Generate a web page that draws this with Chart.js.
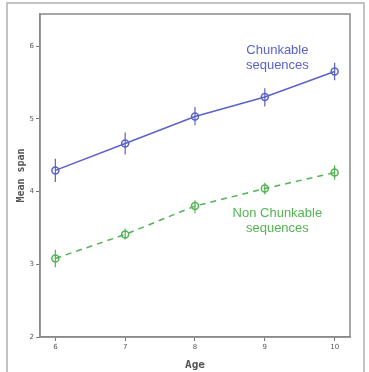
<!DOCTYPE html>
<html>
<head>
<meta charset="utf-8">
<script src="https://cdn.jsdelivr.net/npm/chart.js@4/dist/chart.umd.min.js"></script>
<style>
  html, body { margin: 0; padding: 0; background: #fff; }
  #wrap { width: 369px; height: 372px; position: relative; }
</style>
</head>
<body>
<div id="wrap"><canvas id="span-chart"></canvas></div>
<script>
var ages = [6, 7, 8, 9, 10];
var chunkable = [4.29, 4.66, 5.03, 5.30, 5.65];
var chunkableLow = [4.13, 4.51, 4.91, 5.17, 5.53];
var chunkableHigh = [4.45, 4.81, 5.16, 5.42, 5.77];
var nonChunkable = [3.08, 3.41, 3.80, 4.04, 4.26];
var nonChunkableLow = [2.96, 3.34, 3.70, 3.96, 4.16];
var nonChunkableHigh = [3.20, 3.49, 3.88, 4.12, 4.36];
var xTicks = [6, 7, 8, 9, 10];
var yTicks = [2, 3, 4, 5, 6];

var blue = "#5a62c8";
var green = "#52b452";

function toPoints(ys) {
    return ages.map(function (a, i) { return { x: a, y: ys[i] }; });
}

// error bars, frames and the two series labels
var extras = {
    id: "extras",
    beforeDraw: function (chart) {
        var c = chart.ctx;
        c.save();
        c.strokeStyle = "#b0b0b0";
        c.lineWidth = 1.5;
        c.strokeRect(7, 3, 357, 380);
        c.restore();
    },
    afterDatasetsDraw: function (chart) {
        var c = chart.ctx;
        var xs = chart.scales.x, ys = chart.scales.y;
        var bars = [
            { low: chunkableLow, high: chunkableHigh, color: blue },
            { low: nonChunkableLow, high: nonChunkableHigh, color: green }
        ];
        c.save();
        c.lineWidth = 1.2;
        bars.forEach(function (b) {
            c.strokeStyle = b.color;
            ages.forEach(function (a, i) {
                var px = xs.getPixelForValue(a);
                c.beginPath();
                c.moveTo(px, ys.getPixelForValue(b.low[i]));
                c.lineTo(px, ys.getPixelForValue(b.high[i]));
                c.stroke();
            });
        });

        var area = chart.chartArea;
        c.strokeStyle = "#8a8a8a";
        c.lineWidth = 1.5;
        c.strokeRect(area.left, area.top, area.right - area.left, area.bottom - area.top);

        c.font = "13px 'Liberation Sans', Arial, sans-serif";
        c.textAlign = "center";
        c.textBaseline = "middle";
        var lx = xs.getPixelForValue(9.18);
        c.fillStyle = blue;
        var ly = ys.getPixelForValue(5.83);
        c.fillText("Chunkable", lx, ly - 7.5);
        c.fillText("sequences", lx, ly + 7.5);
        c.fillStyle = green;
        ly = ys.getPixelForValue(3.60);
        c.fillText("Non Chunkable", lx, ly - 7.5);
        c.fillText("sequences", lx, ly + 7.5);
        c.restore();
    }
};

var chart = new Chart(document.getElementById("span-chart"), {
    type: "line",
    data: {
        datasets: [
            {
                label: "Chunkable sequences",
                data: toPoints(chunkable),
                borderColor: blue,
                borderWidth: 1.5,
                pointRadius: 3.5,
                pointBorderWidth: 1.5,
                pointBackgroundColor: "rgba(255,255,255,0)",
                pointBorderColor: blue
            },
            {
                label: "Non Chunkable sequences",
                data: toPoints(nonChunkable),
                borderColor: green,
                borderWidth: 1.5,
                borderDash: [6, 5],
                pointRadius: 3.5,
                pointBorderWidth: 1.5,
                pointBackgroundColor: "rgba(255,255,255,0)",
                pointBorderColor: green
            }
        ]
    },
    options: {
        responsive: true,
        maintainAspectRatio: false,
        animation: false,
        layout: { padding: { left: 0, top: 14, right: 19, bottom: 0 } },
        plugins: {
            legend: { display: false },
            tooltip: { enabled: false }
        },
        scales: {
            x: {
                type: "linear",
                min: 5.78,
                max: 10.22,
                afterBuildTicks: function (s) { s.ticks = xTicks.map(function (v) { return { value: v }; }); },
                afterFit: function (s) { s.height = 35; },
                grid: { drawOnChartArea: false, tickLength: 4, color: "#777", lineWidth: 1 },
                border: { color: "#8a8a8a", width: 1.5 },
                ticks: { color: "#555", font: { size: 7, family: "'DejaVu Sans'" }, padding: 2, maxRotation: 0 },
                title: {
                    display: true,
                    text: "Age",
                    color: "#555",
                    font: { size: 11, weight: "bold", family: "'DejaVu Sans Mono'" },
                    padding: { top: 6, bottom: 0 }
                }
            },
            y: {
                min: 2,
                max: 6.44,
                afterBuildTicks: function (s) { s.ticks = yTicks.map(function (v) { return { value: v }; }); },
                afterFit: function (s) { s.width = 40; },
                grid: { drawOnChartArea: false, tickLength: 4, color: "#777", lineWidth: 1 },
                border: { color: "#8a8a8a", width: 1.5 },
                ticks: { color: "#555", font: { size: 7, family: "'DejaVu Sans'" }, padding: 2 },
                title: {
                    display: true,
                    text: "Mean span",
                    color: "#555",
                    font: { size: 10, weight: "bold", family: "'DejaVu Sans Mono'" },
                    padding: { top: 15, bottom: 0 }
                }
            }
        }
    },
    plugins: [extras]
});
</script>
</body>
</html>
